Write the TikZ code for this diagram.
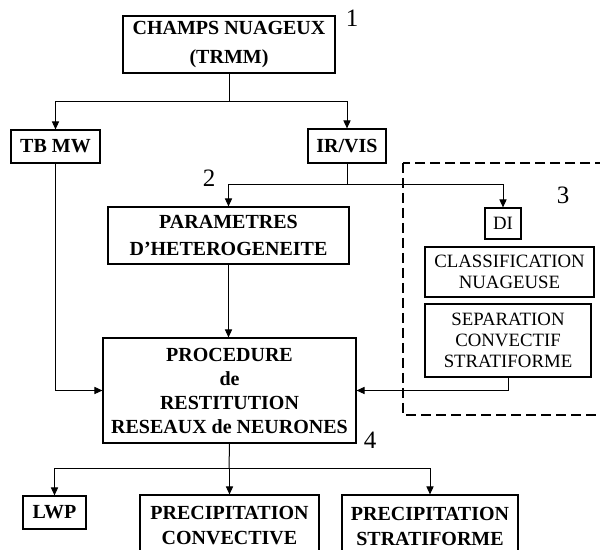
\documentclass[tikz,border=0pt]{standalone}
\usepackage{fontspec}
\setmainfont{Liberation Serif}
\usepackage{tikz}
\usetikzlibrary{arrows.meta}

\begin{document}
\begin{tikzpicture}[x=0.5pt,y=-0.5pt,
  box/.style={draw,line width=0.6pt,align=center,inner sep=0pt,font=\bfseries\fontsize{10}{12.5}\selectfont},
  thinbox/.style={box,font=\fontsize{9.4}{10.5}\selectfont},
  arr/.style={-{Triangle[length=4pt,width=3.6pt]},line width=0.5pt},
  num/.style={font=\fontsize{12.5}{14}\selectfont}]
\useasboundingbox (0,0) rectangle (600,550);
\node[box,minimum width=106pt,minimum height=28.5pt,font=\bfseries\fontsize{10}{14.5}\selectfont] (champs) at (229,44.5){CHAMPS NUAGEUX\\(TRMM)};
\node[box,minimum width=44.5pt,minimum height=16.5pt] (tbmw) at (55.5,146.5){TB MW};
\node[box,minimum width=39pt,minimum height=17pt] (irvis) at (347,146){IR/VIS};
\node[box,minimum width=120.5pt,minimum height=28.5pt,font=\bfseries\fontsize{10}{13.5}\selectfont] (param) at (228.5,235.5){PARAMETRES\\D’HETEROGENEITE};
\node[thinbox,minimum width=18pt,minimum height=15.5pt] (di) at (503,223.5){DI};
\node[thinbox,minimum width=84.5pt,minimum height=25pt] (classif) at (509.5,272){CLASSIFICATION\\NUAGEUSE};
\node[thinbox,minimum width=83pt,minimum height=36.5pt] (separ) at (508,340.5){SEPARATION\\CONVECTIF\\STRATIFORME};
\node[box,minimum width=126.5pt,minimum height=52.5pt,font=\bfseries\fontsize{10}{12}\selectfont] (proc) at (229.5,390.5){PROCEDURE\\de\\RESTITUTION\\RESEAUX de NEURONES};
\node[box,minimum width=31.5pt,minimum height=16.5pt] (lwp) at (54.5,512.5){LWP};
\node[box,minimum width=89.5pt,minimum height=31pt] (pconv) at (229.5,526){PRECIPITATION\\CONVECTIVE};
\node[box,minimum width=88pt,minimum height=31pt] (pstrat) at (430,526){PRECIPITATION\\STRATIFORME};
\node[num] (n1) at (352,18){1};
\node[num] (n2) at (209,178){2};
\node[num] (n3) at (563,195){3};
\node[num] (n4) at (370,440){4};
\draw[line width=0.9pt,dash pattern=on 5pt off 2.5pt] (403,163) rectangle (612,415);
\coordinate (j1) at (229,102);
\coordinate (j2) at (347,185);
\coordinate (j3) at (229,469);
\draw[line width=0.5pt] (champs.south)--(j1);
\draw[arr] (j1)-|(tbmw.north);
\draw[arr] (j1)-|(irvis.north);
\draw[line width=0.5pt] (irvis.south)--(j2);
\draw[arr] (j2)-|(param.north);
\draw[arr] (j2)-|(di.north);
\draw[arr] (param.south)--(param.south|-proc.north);
\draw[arr] (tbmw.south)|-(proc.west);
\draw[arr] (separ.south)|-(proc.east);
\draw[line width=0.5pt] (proc.south)--(j3);
\draw[arr] (j3)-|(lwp.north);
\draw[arr] (j3)-|(pstrat.north);
\draw[arr] (j3)--(j3-|pconv.north)--(pconv.north);
\end{tikzpicture}
\end{document}
